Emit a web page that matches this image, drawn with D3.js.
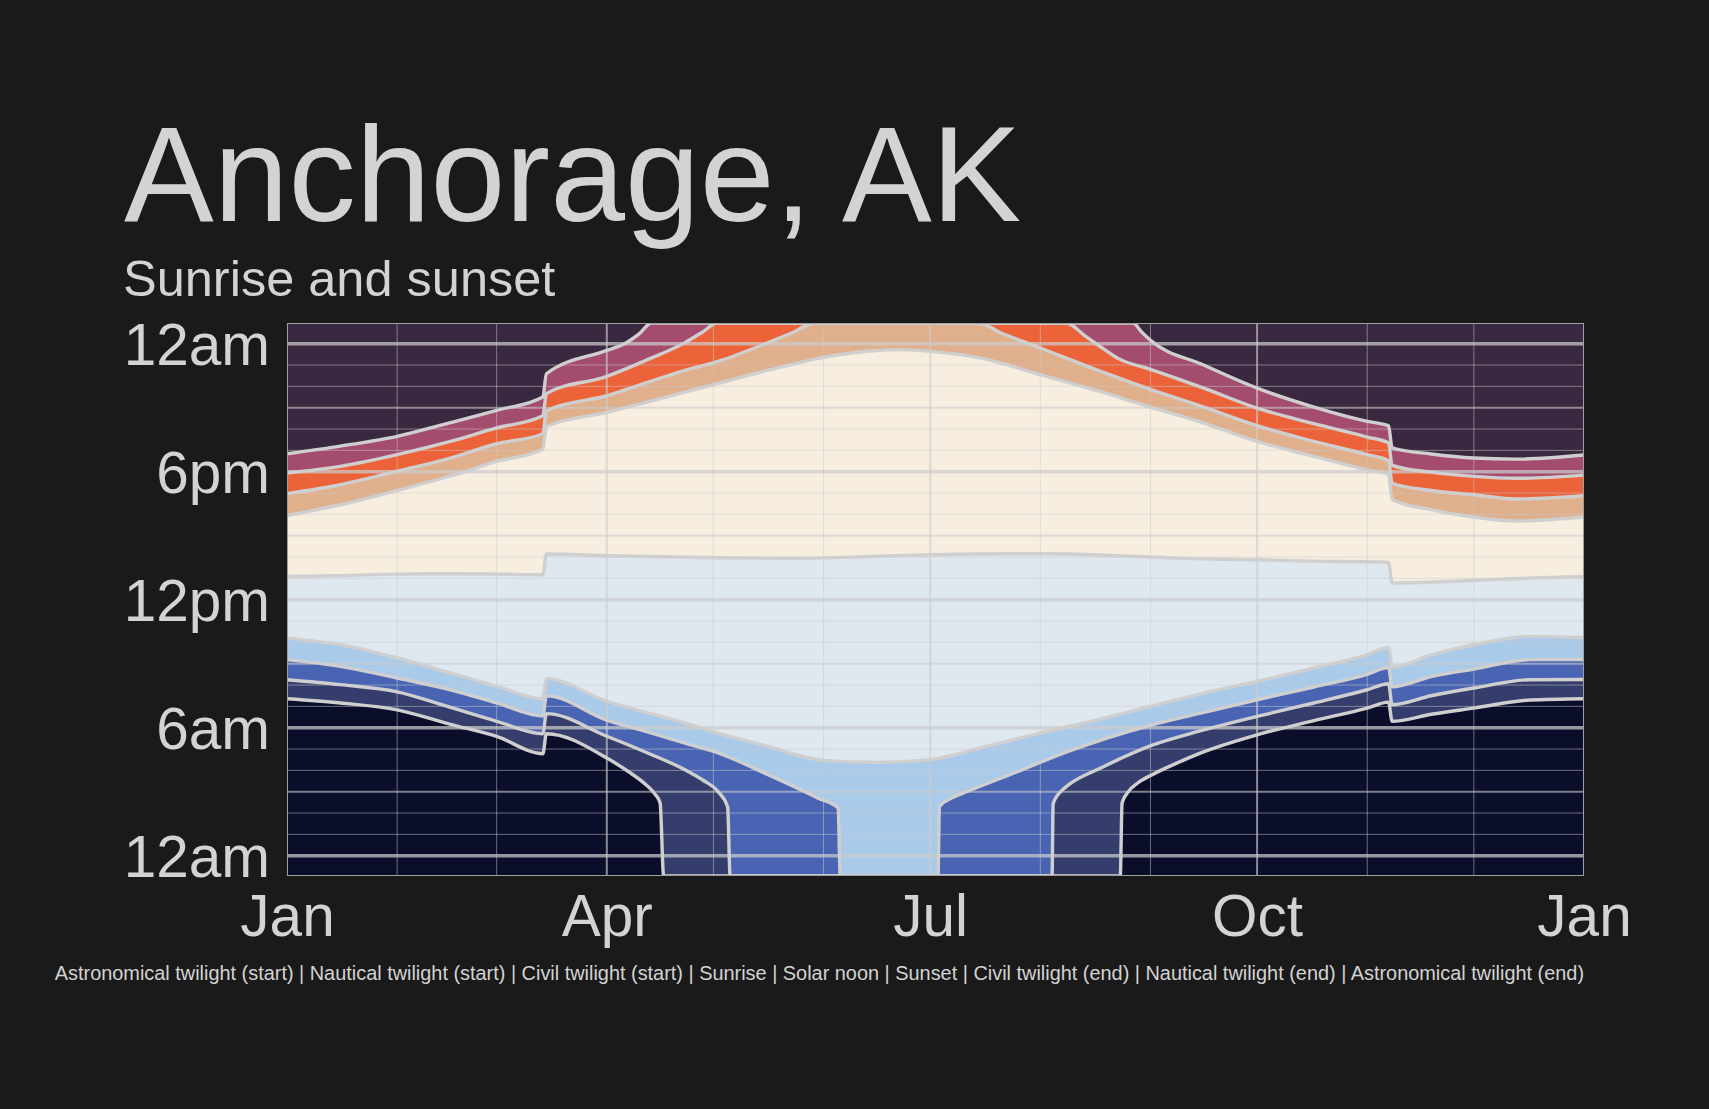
<!DOCTYPE html>
<html>
<head>
<meta charset="utf-8">
<script src="https://cdn.jsdelivr.net/npm/d3@7"></script>
<style>
  html, body { margin: 0; padding: 0; background: #1a1a1a; }
  svg { display: block; }
  text { font-family: "Liberation Sans", Arial, Helvetica, sans-serif; }
</style>
</head>
<body>
<svg id="chart" width="1709" height="1109"></svg>
<script>
// ---------------- DATA (day of year 2021 → hour of day; null = event does not occur) ----------------
const titleText = "Anchorage, AK";
const subtitleText = "Sunrise and sunset";
const captionText = "Astronomical twilight (start) | Nautical twilight (start) | Civil twilight (start) | Sunrise | Solar noon | Sunset | Civil twilight (end) | Nautical twilight (end) | Astronomical twilight (end)";

const yTickHours = [0, 6, 12, 18, 24];
const yTickLabels = ["12am", "6am", "12pm", "6pm", "12am"];
const xTickLabels = ["Jan", "Apr", "Jul", "Oct", "Jan"];

const astroStart = [[0,7.36],[15,7.16],[31,6.84],[46,6.16],[59,5.59],[72,4.78],[73,5.72],[90,4.58],[96,3.95],[101,3.33],[103.5,2.9],[105,2.47],[106,null],[234.5,null],[235,2.47],[236.6,2.97],[239.4,3.41],[243.5,3.8],[250.4,4.34],[257,4.81],[273,5.67],[289,6.33],[304,6.92],[310,7.2],[311,6.3],[322,6.63],[334,6.92],[350,7.3],[365,7.36]];
const nauticalStart = [[0,8.25],[15,8.02],[31,7.68],[46,6.95],[59,6.3],[72,5.72],[73,6.66],[90,5.6],[101,4.85],[112,4.03],[117,3.55],[121.5,2.97],[124,2.3],[124.7,null],[215.3,null],[215.6,2.4],[216.5,2.75],[218,3.05],[220,3.33],[229,4.11],[243.5,5.18],[257,5.85],[273,6.53],[289,7.16],[304,7.78],[310,8.06],[311,7.08],[322,7.5],[334,7.86],[350,8.25],[365,8.26]];
const civilStart = [[0,9.19],[15,8.875],[31,8.33],[46,7.78],[59,7.16],[72,6.55],[73,7.5],[90,6.36],[101,5.83],[112,5.28],[121.5,4.81],[135.4,3.8],[149.5,2.7],[155.1,2.23],[155.7,null],[183.2,null],[183.6,2.31],[187,2.7],[191.6,3.02],[205.7,3.95],[219.8,4.89],[243.5,6.14],[258,6.72],[273,7.31],[289,7.91],[304,8.5],[310,8.82],[311,7.92],[322,8.4],[334,8.75],[350,9.19],[365,9.2]];
const sunrise = [[0,10.2],[15,9.89],[31,9.27],[46,8.56],[59,7.94],[72,7.36],[73,8.3],[90,7.23],[101,6.72],[112,6.22],[121.5,5.74],[135.4,5.125],[151,4.47],[166.3,4.375],[181,4.5],[196.4,5.1],[212,5.75],[229.4,6.42],[243.5,7.02],[258,7.625],[273,8.17],[289,8.8],[304,9.42],[310,9.76],[311,8.84],[322,9.41],[334,9.89],[350,10.28],[365,10.22]];
const solarNoon = [[0,13.09],[15,13.13],[31,13.2],[46,13.22],[59,13.2],[72,13.17],[73,14.14],[90,14.06],[121,13.97],[141,13.94],[160,14.0],[174,14.08],[188,14.13],[205.7,14.16],[220.7,14.14],[233.9,14.06],[243,14.0],[252,13.94],[273,13.875],[288,13.81],[310,13.75],[311,12.78],[325,12.84],[334,12.91],[350.8,13.02],[365,13.09]];
const sunset = [[0,15.94],[15,16.45],[31,17.12],[46,17.8],[59,18.48],[72,19.05],[73,20.12],[90,20.78],[101,21.25],[112,21.73],[121.3,22.14],[136,22.78],[151,23.36],[166,23.68],[172,23.72],[181,23.64],[196,23.3],[212,22.55],[229,21.75],[243,21.03],[258,20.28],[273,19.42],[289,18.72],[304,18.09],[310,17.87],[311,16.7],[322,16.22],[334,15.875],[346,15.69],[365,15.875]];
const civilEnd = [[0,16.97],[15,17.39],[31,18.02],[46,18.64],[59,19.31],[72,19.78],[73,20.86],[90,21.56],[101,22.16],[112,22.75],[121.3,23.17],[135.4,24.05],[142,24.5],[148.5,24.97],[149,null],[194,null],[194.5,24.97],[201,24.5],[212,23.8],[229,22.7],[243,21.86],[258,21.03],[273,20.16],[289,19.42],[304,18.8],[310,18.52],[311,17.46],[322,17.12],[334,16.92],[346,16.72],[365,16.875]];
const nauticalEnd = [[0,17.94],[15,18.25],[31,18.8],[46,19.42],[59,20.05],[72,20.62],[73,21.66],[90,22.47],[101,23.22],[112,24.05],[117,24.55],[121,24.97],[121.5,null],[218.8,null],[219.3,24.97],[224.5,24.38],[229.4,23.8],[234,23.3],[243,22.8],[258,21.92],[273,20.98],[289,20.25],[304,19.625],[310,19.35],[311,18.3],[322,17.98],[334,17.78],[346,17.69],[365,17.84]];
const astroEnd = [[0,18.84],[15,19.2],[31,19.66],[46,20.3],[59,20.875],[72,21.5],[73,22.59],[90,23.69],[95,24.0],[99,24.45],[102.6,24.97],[103,null],[237.6,null],[238.1,24.97],[240.5,24.55],[243,24.16],[258,23.0],[273,21.92],[289,21.03],[304,20.36],[310,20.15],[311,19.12],[322,18.83],[334,18.64],[346,18.59],[365,18.78]];

// series listed top (latest) to bottom, each with the colour of the band directly below it
const layers = [
  { data: astroEnd,      end: true,  below: "#a34c6e" },
  { data: nauticalEnd,   end: true,  below: "#ec6239" },
  { data: civilEnd,      end: true,  below: "#e0af8b" },
  { data: sunset,        end: true,  below: "#f7eee0" },
  { data: solarNoon,     end: true,  below: "#dfe7ef" },
  { data: sunrise,       end: false, below: "#aacaea" },
  { data: civilStart,    end: false, below: "#4a64b4" },
  { data: nauticalStart, end: false, below: "#343d6b" },
  { data: astroStart,    end: false, below: "#0a0e2b" }
];
const topNightColor = "#3a2840";

// ---------------- DRAWING ----------------
const svg = d3.select("#chart");
const W = 1709, H = 1109;
const P = { left: 287, right: 1584, top: 323, bottom: 876 };
const textColor = "#d3d3d3";

svg.append("rect").attr("width", W).attr("height", H).attr("fill", "#1a1a1a");

const t0 = Date.UTC(2021, 0, 1);
const toDate = d => new Date(t0 + d * 86400000);
const x = d3.scaleUtc().domain([toDate(0), toDate(365)]).range([P.left, P.right]);
const y = d3.scaleLinear().domain([-0.95, 24.97]).range([P.bottom, P.top]).clamp(true);
const [yMin, yMax] = y.domain();

svg.append("defs").append("clipPath").attr("id", "plotclip")
  .append("rect").attr("x", P.left).attr("y", P.top)
  .attr("width", P.right - P.left).attr("height", P.bottom - P.top);

const plot = svg.append("g").attr("clip-path", "url(#plotclip)");

plot.append("rect").attr("x", P.left).attr("y", P.top)
  .attr("width", P.right - P.left).attr("height", P.bottom - P.top)
  .attr("fill", topNightColor);

const yv = (d, end) => y(d[1] == null ? (end ? yMax : yMin) : d[1]);

layers.forEach(L => {
  const area = d3.area()
    .x(d => x(toDate(d[0])))
    .y0(P.bottom)
    .y1(d => yv(d, L.end))
    .curve(d3.curveMonotoneX);
  plot.append("path").datum(L.data).attr("d", area).attr("fill", L.below);
});

// grid
const grid = plot.append("g");
d3.range(0, 25).forEach(h => {
  const major = h % 6 === 0, mid = h % 3 === 0;
  grid.append("line")
    .attr("x1", P.left).attr("x2", P.right)
    .attr("y1", y(h)).attr("y2", y(h))
    .attr("stroke", "#cccccc")
    .attr("stroke-opacity", major ? 0.72 : (mid ? 0.6 : 0.5))
    .attr("stroke-width", major ? 3.5 : (mid ? 2 : 1));
});
const months = d3.utcMonth.range(toDate(0), toDate(366));
months.forEach((m, i) => {
  const q = i % 3 === 0;
  grid.append("line")
    .attr("x1", x(m)).attr("x2", x(m))
    .attr("y1", P.top).attr("y2", P.bottom)
    .attr("stroke", "#cccccc")
    .attr("stroke-opacity", q ? 0.65 : 0.5)
    .attr("stroke-width", q ? 2 : 1);
});

// boundary lines
layers.forEach(L => {
  const line = d3.line()
    .x(d => x(toDate(d[0])))
    .y(d => yv(d, L.end))
    .curve(d3.curveMonotoneX);
  plot.append("path").datum(L.data).attr("d", line)
    .attr("fill", "none").attr("stroke", "#cfcfcf")
    .attr("stroke-width", 3.4).attr("stroke-linejoin", "round");
});

svg.append("rect").attr("x", P.left + 0.5).attr("y", P.top + 0.5)
  .attr("width", P.right - P.left - 1).attr("height", P.bottom - P.top - 1)
  .attr("fill", "none").attr("stroke", "#a0a0a0").attr("stroke-width", 1);

// axes
const yAxis = d3.axisLeft(y).tickValues(yTickHours).tickSize(0).tickPadding(17)
  .tickFormat((d, i) => yTickLabels[i]);
const gy = svg.append("g").attr("transform", `translate(${P.left},0)`).call(yAxis);
gy.select(".domain").remove();
gy.selectAll("text").attr("fill", textColor).attr("font-size", 58.5)
  .attr("font-family", '"Liberation Sans", Arial, sans-serif').attr("dy", "0.35em");

const xTicks = d3.utcMonth.range(toDate(0), toDate(366), 3);
const xAxis = d3.axisBottom(x).tickValues(xTicks).tickSize(0).tickPadding(18)
  .tickFormat((d, i) => xTickLabels[i]);
const gx = svg.append("g").attr("transform", `translate(0,${P.bottom})`).call(xAxis);
gx.select(".domain").remove();
gx.selectAll("text").attr("fill", textColor).attr("font-size", 58.5)
  .attr("font-family", '"Liberation Sans", Arial, sans-serif');

// titles
svg.append("text").attr("x", 124).attr("y", 221).attr("fill", textColor)
  .attr("font-size", 134.5).text(titleText);
svg.append("text").attr("x", 123).attr("y", 296).attr("fill", textColor)
  .attr("font-size", 50.5).text(subtitleText);
svg.append("text").attr("x", P.right).attr("y", 980).attr("fill", textColor)
  .attr("text-anchor", "end").attr("font-size", 19.9).text(captionText);
</script>
</body>
</html>
